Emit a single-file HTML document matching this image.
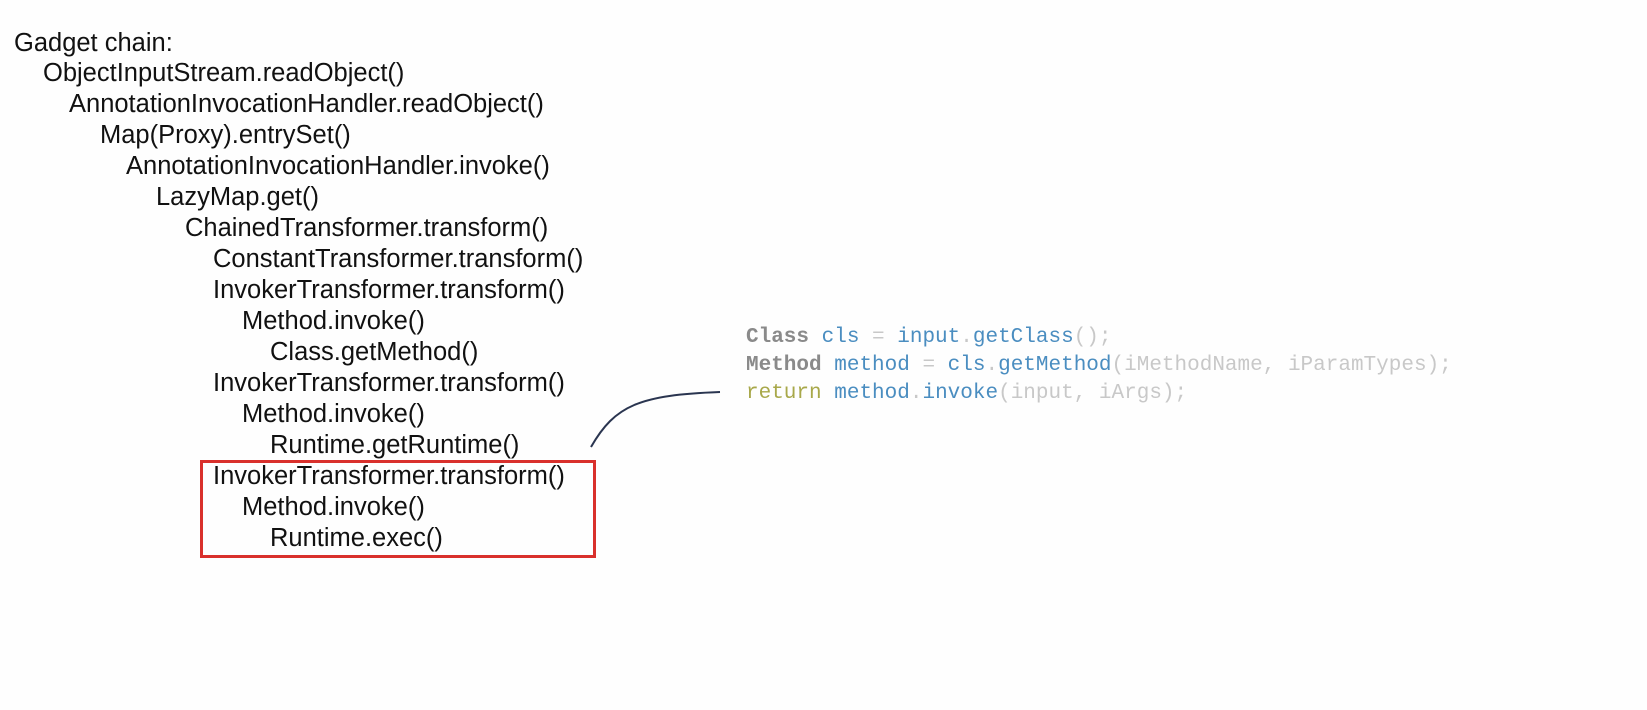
<!DOCTYPE html>
<html><head><style>
body{margin:0;width:1647px;height:710px;background:#fefefe;position:relative;overflow:hidden;font-family:"Liberation Sans",Arial,sans-serif;}
.t{position:absolute;font-size:25.5px;color:#111;white-space:nowrap;line-height:1;margin-top:0px;}
.c{position:absolute;left:746px;font-family:"Liberation Mono",monospace;font-size:21px;white-space:pre;line-height:1;color:#c8c8c8;}
.k{color:#8a8a8a;font-weight:bold}
.b{color:#4a8dc0}
.r{color:#a8a84a}
</style></head><body>
<div class="t" style="left:14px;top:31px">Gadget chain:</div>
<div class="t" style="left:43px;top:61px">ObjectInputStream.readObject()</div>
<div class="t" style="left:69px;top:92px">AnnotationInvocationHandler.readObject()</div>
<div class="t" style="left:100px;top:123px">Map(Proxy).entrySet()</div>
<div class="t" style="left:126px;top:154px">AnnotationInvocationHandler.invoke()</div>
<div class="t" style="left:156px;top:185px">LazyMap.get()</div>
<div class="t" style="left:185px;top:216px">ChainedTransformer.transform()</div>
<div class="t" style="left:213px;top:247px">ConstantTransformer.transform()</div>
<div class="t" style="left:213px;top:278px">InvokerTransformer.transform()</div>
<div class="t" style="left:242px;top:309px">Method.invoke()</div>
<div class="t" style="left:270px;top:340px">Class.getMethod()</div>
<div class="t" style="left:213px;top:371px">InvokerTransformer.transform()</div>
<div class="t" style="left:242px;top:402px">Method.invoke()</div>
<div class="t" style="left:270px;top:433px">Runtime.getRuntime()</div>
<div class="t" style="left:213px;top:464px">InvokerTransformer.transform()</div>
<div class="t" style="left:242px;top:495px">Method.invoke()</div>
<div class="t" style="left:270px;top:526px">Runtime.exec()</div>
<div style="position:absolute;left:200px;top:460px;width:390px;height:92px;border:3px solid #d9302c"></div>
<svg style="position:absolute;left:0;top:0" width="1647" height="710">
<path d="M591 447 C 615 405, 640 395, 720 392" fill="none" stroke="#2a3550" stroke-width="2"/>
</svg>
<div class="c" style="top:327px"><span class="k">Class</span> <span class="b">cls</span> = <span class="b">input</span>.<span class="b">getClass</span>();</div>
<div class="c" style="top:355px"><span class="k">Method</span> <span class="b">method</span> = <span class="b">cls</span>.<span class="b">getMethod</span>(iMethodName, iParamTypes);</div>
<div class="c" style="top:383px"><span class="r">return</span> <span class="b">method</span>.<span class="b">invoke</span>(input, iArgs);</div>
</body></html>
